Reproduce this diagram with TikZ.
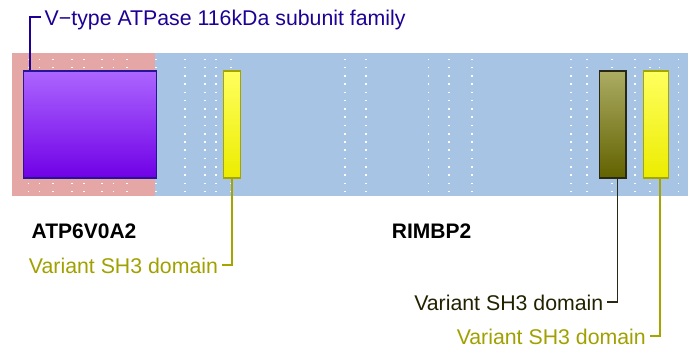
\documentclass[tikz,border=0pt]{standalone}
\usepackage{fontspec}
\setmainfont{Liberation Sans}
\usetikzlibrary{shadings}
\definecolor{pinkbg}{RGB}{229,166,166}
\definecolor{bluebg}{RGB}{168,196,228}
\definecolor{purtop}{RGB}{172,102,255}
\definecolor{purbot}{RGB}{112,0,230}
\definecolor{purline}{RGB}{40,20,150}
\definecolor{vcol}{RGB}{30,0,150}
\definecolor{yeltop}{RGB}{255,255,95}
\definecolor{yelbot}{RGB}{236,236,0}
\definecolor{yelline}{RGB}{165,165,0}
\definecolor{yeltext}{RGB}{160,160,0}
\definecolor{olvtop}{RGB}{172,172,100}
\definecolor{olvbot}{RGB}{98,98,0}
\definecolor{olvline}{RGB}{40,40,20}
\definecolor{olvtext}{RGB}{34,34,0}
\begin{document}
\begin{tikzpicture}[x=1pt,y=-1pt,
  lbl/.style={inner ysep=0pt, inner xsep=3.5pt, font=\fontsize{21.3}{24}\selectfont, text height=16pt, text depth=0pt},
  protname/.style={inner sep=0pt, font=\fontsize{21}{24}\selectfont\bfseries},
  dombox/.style={draw, line width=1.2pt, inner sep=0pt, anchor=north west, minimum height=107pt},
  leader/.style={line width=1.3pt}]
\useasboundingbox (0,0) rectangle (688,349);
% backgrounds
\fill[pinkbg] (12,53) rectangle (155,195.7);
\fill[bluebg] (155,53) rectangle (688,195.7);
% dots
\foreach \x in {28.3,39.3,52.7,71.7,84,101.7,113.3,126.7,156,185,205,215.7,231,345,365.7,428.3,449,471.7,571,586.7,611.7,635,650,659.3,678.3}
  \foreach \k in {0,...,16}
    \fill[white] (\x-0.8,59.3+\k*8.27-0.8) rectangle ++(1.6,1.6);
% domains
\node[dombox, draw=purline, top color=purtop, bottom color=purbot, minimum width=133pt] (pur) at (22.7,70.3) {};
\node[dombox, draw=yelline, top color=yeltop, bottom color=yelbot, minimum width=17.3pt] (y1) at (222.7,70.3) {};
\node[dombox, draw=olvline, top color=olvtop, bottom color=olvbot, minimum width=26.3pt] (olv) at (599,70.3) {};
\node[dombox, draw=yelline, top color=yeltop, bottom color=yelbot, minimum width=25pt] (y2) at (642.7,70.3) {};
% labels
\node[lbl, text=vcol, anchor=base west] (vlab) at (41,25) {V−type ATPase 116kDa subunit family};
\node[lbl, text=yeltext, anchor=base east] (lab1) at (221.7,273) {Variant SH3 domain};
\node[lbl, text=olvtext, anchor=base east] (lab2) at (607,310) {Variant SH3 domain};
\node[lbl, text=yeltext, anchor=base east] (lab3) at (649.5,344) {Variant SH3 domain};
\node[protname, anchor=base west] (p1) at (31.5,238.3) {ATP6V0A2};
\node[protname, anchor=base east] (p2) at (471.5,238.3) {RIMBP2};
% leaders
\draw[leader, vcol] ([xshift=7.3pt]pur.north west) |- (vlab.west);
\draw[leader, yelline] ([xshift=9.3pt]y1.south west) |- (lab1.east);
\draw[leader, olvline] ([xshift=18.3pt]olv.south west) |- (lab2.east);
\draw[leader, yelline] ([xshift=17.3pt]y2.south west) |- (lab3.east);
\end{tikzpicture}
\end{document}
